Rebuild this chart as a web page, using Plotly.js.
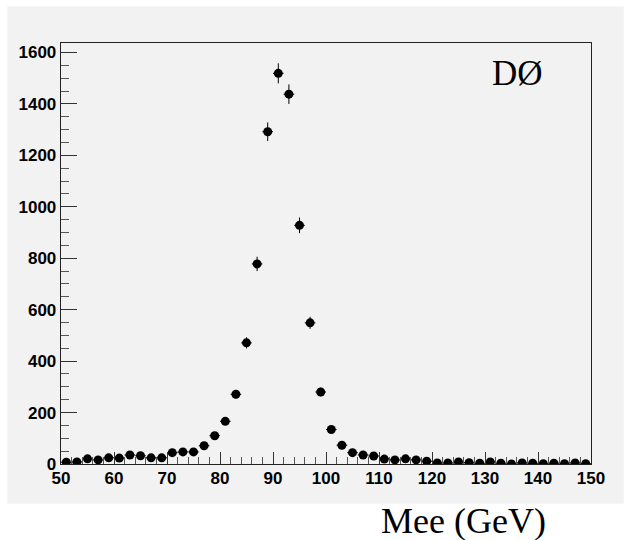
<!DOCTYPE html>
<html>
<head>
<meta charset="utf-8">
<script src="https://cdn.plot.ly/plotly-3.0.1.min.js"></script>
<style>html,body{margin:0;padding:0;background:#fff;}#chart{width:624px;height:540px;}</style>
</head>
<body>
<div id="chart"></div>
<script>
// Bin centres (GeV), 2 GeV bins from 50 to 150
const massBins = [51,53,55,57,59,61,63,65,67,69,71,73,75,77,79,81,83,85,87,89,
                  91,93,95,97,99,101,103,105,107,109,111,113,115,117,119,121,123,125,127,129,
                  131,133,135,137,139,141,143,145,147,149];
// Events per bin
const eventCounts = [7,8,20,16,24,23,35,32,24,24,44,47,47,71,110,166,271,471,778,1292,
                     1519,1438,928,549,280,134,73,44,35,31,19,16,20,16,11,4,4,8,5,3,
                     8,3,0,4,3,1,3,1,4,1];
const binHalfWidth = 1;
const xTickVals = [50,60,70,80,90,100,110,120,130,140,150];
const yTickVals = [0,200,400,600,800,1000,1200,1400,1600];
const experimentLabel = "DØ";
const xTitle = "Mee (GeV)";

const tickFont = {family: "Liberation Sans Narrow, Arial Narrow, Liberation Sans, Arial, sans-serif", size: 17, color: "#000", weight: "bold"};

const trace = {
  x: massBins,
  y: eventCounts,
  type: "scatter",
  mode: "markers",
  marker: {color: "#000", size: 9, symbol: "circle"},
  error_y: {type: "sqrt", visible: true, color: "#000", thickness: 1, width: 0},
  error_x: {type: "constant", value: binHalfWidth, visible: true, color: "#000", thickness: 1, width: 0},
  hoverinfo: "x+y"
};

const W = 624, H = 540;
const L = 60.7, R = 32.7, T = 42.7, B = 75.7;
const pw = W - L - R, ph = H - T - B;
const px = v => (v - L) / pw;
const py = v => (H - B - v) / ph;

const layout = {
  width: W, height: H,
  margin: {l: L, r: R, t: T, b: B, pad: 0},
  paper_bgcolor: "#ffffff",
  plot_bgcolor: "#f2f2f2",
  showlegend: false,
  xaxis: {
    range: [50, 150], tickmode: "array", tickvals: xTickVals,
    ticks: "inside", ticklen: 12, tickwidth: 1, tickcolor: "#333",
    minor: {dtick: 2, ticks: "inside", ticklen: 7, tickcolor: "#555", tickwidth: 1, showgrid: false},
    showline: true, linecolor: "#222", linewidth: 1.3, mirror: true,
    showgrid: false, zeroline: false,
    tickfont: tickFont, ticklabelstandoff: -2
  },
  yaxis: {
    range: [0, 1637], tickmode: "array", tickvals: yTickVals,
    ticks: "inside", ticklen: 16, tickwidth: 1, tickcolor: "#333",
    minor: {dtick: 50, ticks: "inside", ticklen: 8, tickcolor: "#555", tickwidth: 1, showgrid: false},
    showline: true, linecolor: "#222", linewidth: 1.3, mirror: true,
    showgrid: false, zeroline: false,
    tickfont: tickFont
  },
  shapes: [{
    type: "rect", xref: "paper", yref: "paper", layer: "below",
    x0: px(7), x1: px(624), y0: py(504), y1: py(6),
    fillcolor: "#f2f2f2", line: {width: 0}
  }],
  annotations: [
    {text: experimentLabel, xref: "paper", yref: "paper", x: px(518), y: py(73),
     xanchor: "center", yanchor: "middle", showarrow: false,
     font: {family: "Liberation Serif, Times New Roman, serif", size: 35, color: "#000"}},
    {text: xTitle, xref: "paper", yref: "paper", x: px(464), y: py(521),
     xanchor: "center", yanchor: "middle", showarrow: false,
     font: {family: "Liberation Serif, Times New Roman, serif", size: 36, color: "#000"}}
  ]
};

Plotly.newPlot("chart", [trace], layout, {staticPlot: true, displayModeBar: false});
</script>
</body>
</html>
